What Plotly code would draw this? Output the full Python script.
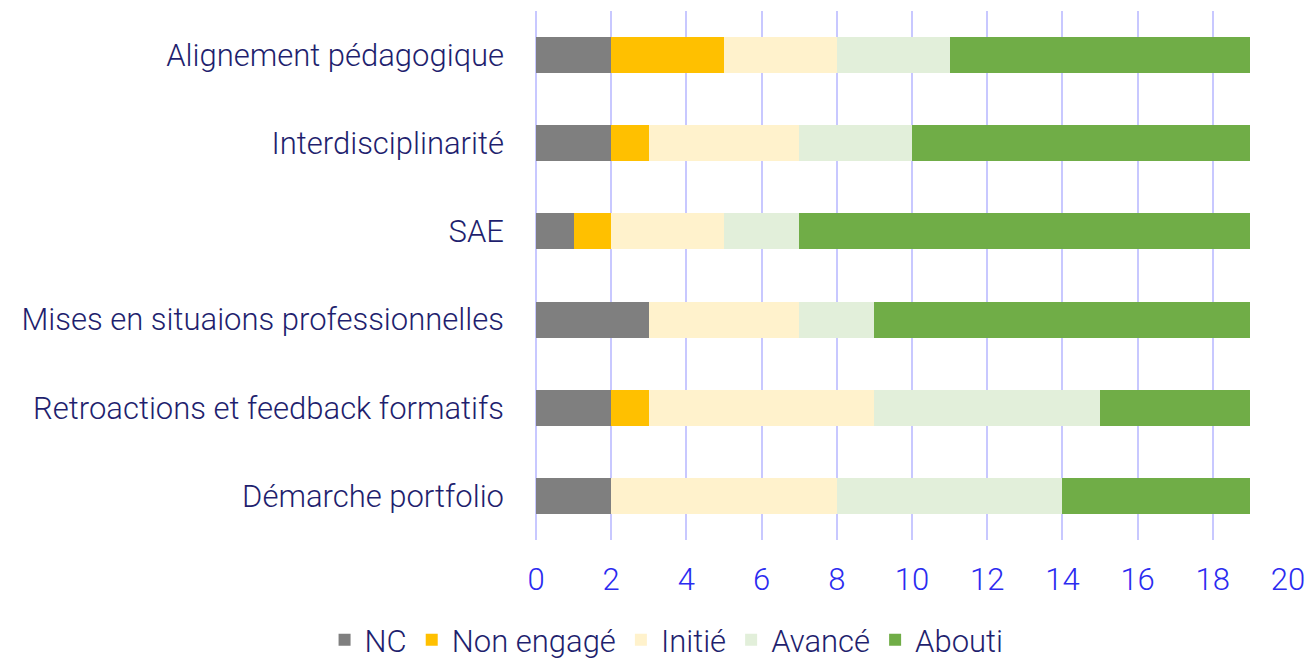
import plotly.graph_objects as go

categories = ["Alignement pédagogique", "Interdisciplinarité", "SAE",
              "Mises en situaions professionnelles", "Retroactions et feedback formatifs",
              "Démarche portfolio"]
series_names = ["NC", "Non engagé", "Initié", "Avancé", "Abouti"]
nc = [2, 2, 1, 3, 2, 2]
non_engage = [3, 1, 1, 0, 1, 0]
initie = [3, 4, 3, 4, 6, 6]
avance = [3, 3, 2, 2, 6, 6]
abouti = [8, 9, 12, 10, 4, 5]
colors = ["#7F7F7F", "#FFC000", "#FFF2CC", "#E2EFDA", "#70AD47"]
x_ticks = [0, 2, 4, 6, 8, 10, 12, 14, 16, 18, 20]

FONT = "Roboto"
FS = 31
fig = go.Figure()
for name, vals, col in zip(series_names, [nc, non_engage, initie, avance, abouti], colors):
    fig.add_trace(go.Bar(y=categories, x=vals, name=name, orientation="h",
                         marker=dict(color=col, line=dict(width=0)), width=0.41))

fig.update_layout(
    barmode="stack",
    width=1307, height=660,
    margin=dict(l=536, r=19, t=11, b=120),
    plot_bgcolor="white", paper_bgcolor="white",
    font=dict(family=FONT, size=FS, color="#1F1F6E", weight=300),
    xaxis=dict(range=[0, 20], tickvals=x_ticks, showgrid=True, gridcolor="#C8C8FF",
               gridwidth=2, zeroline=True, zerolinecolor="#C8C8FF", zerolinewidth=2,
               tickfont=dict(color="#2B2BF0", size=FS, family=FONT, weight=300),
               ticklabelstandoff=18, fixedrange=True, automargin=False),
    yaxis=dict(autorange="reversed", showgrid=False, zeroline=False,
               tickfont=dict(color="#1F1F6E", size=FS, family=FONT, weight=300),
               ticklabelstandoff=31, fixedrange=True, automargin=False),
    legend=dict(orientation="h", xref="container", x=0.51, xanchor="center",
                yref="container", y=0.03, yanchor="middle",
                font=dict(size=FS, color="#1F1F6E", family=FONT, weight=300),
                itemwidth=30, traceorder="normal"),
    bargap=0.59,
)
fig.write_html("out.html", config={"displayModeBar": False},
               post_script="document.body.style.margin='0';document.body.style.overflow='hidden';")
